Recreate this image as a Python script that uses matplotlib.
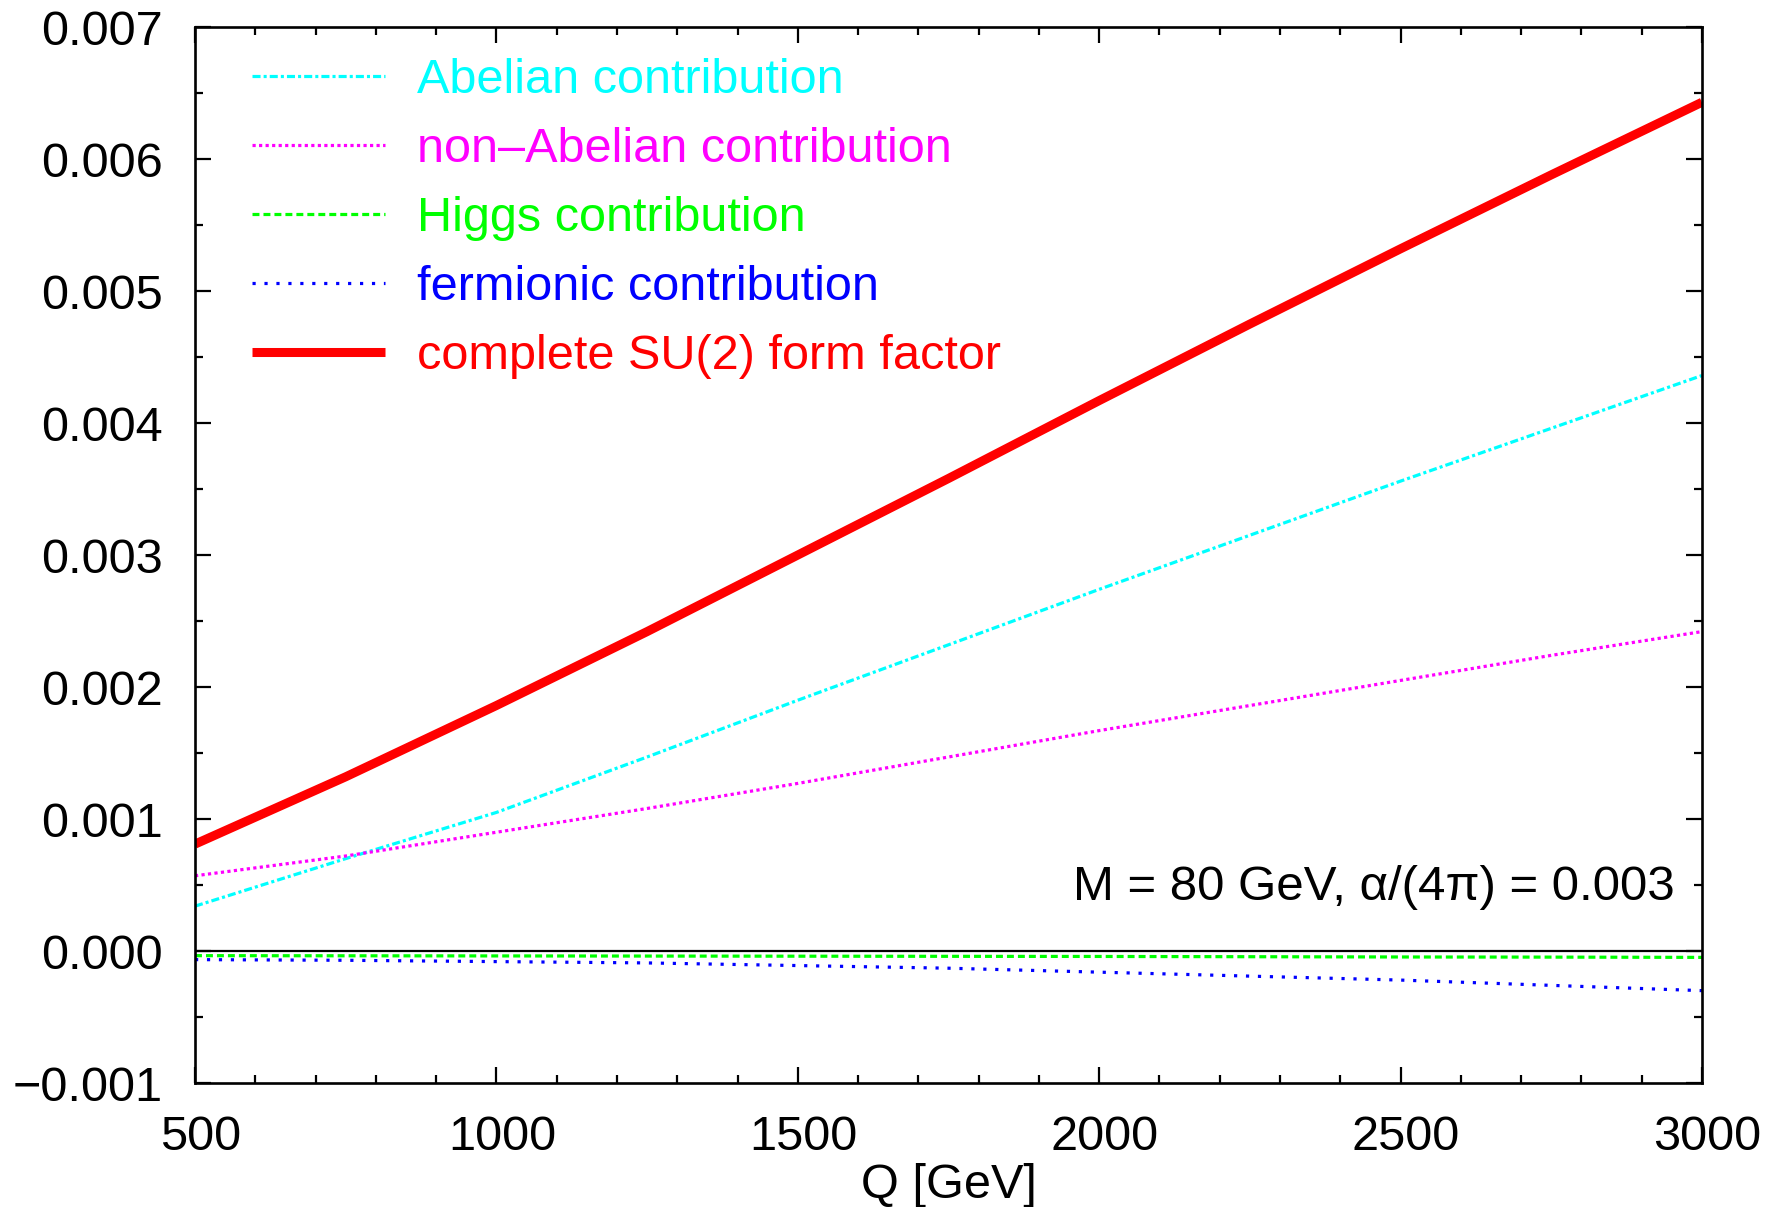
# SU(2) form factor contributions vs Q

import numpy as np
import matplotlib
matplotlib.use('Agg')
import matplotlib.pyplot as plt
import matplotlib.transforms as mtransforms
from matplotlib.ticker import MultipleLocator, FuncFormatter

plt.rcParams['font.family'] = ['Liberation Sans', 'DejaVu Sans']
plt.rcParams['lines.scale_dashes'] = False

# Data
Q = [500, 750, 1000, 1250, 1500, 1750, 2000, 2250, 2500, 2750, 3000]
abelian = [0.00034, 0.00070, 0.00105, 0.00147, 0.00190, 0.00232, 0.00274,
           0.00315, 0.00356, 0.00396, 0.00436]
non_abelian = [0.00057, 0.00072, 0.00090, 0.00108, 0.00127, 0.00147, 0.00167,
               0.00186, 0.00205, 0.00224, 0.00242]
higgs = [-0.000035, -0.000036, -0.000037, -0.000038, -0.000039, -0.00004,
         -0.000041, -0.000043, -0.000045, -0.000046, -0.000048]
fermionic = [-0.000065, -0.00007, -0.00008, -0.00009, -0.00011, -0.00013,
             -0.00016, -0.00019, -0.00022, -0.00026, -0.00030]
complete = [0.00081, 0.00132, 0.00186, 0.00242, 0.00300, 0.00358, 0.00417,
            0.00475, 0.00532, 0.00588, 0.00643]

labels = ['Abelian contribution', 'non\u2013Abelian contribution',
          'Higgs contribution', 'fermionic contribution',
          'complete SU(2) form factor']
colors = ['#00ffff', '#ff00ff', '#00ff00', '#0000ff', '#ff0000']

fig = plt.figure(figsize=(17.76, 12.07), dpi=100)
ax = fig.add_axes([0.1098, 0.1027, 0.8485, 0.8749])

ax.axhline(0, color='black', lw=1.6, zorder=1)

lines = []
lines += ax.plot(Q, abelian, color=colors[0], lw=2.3, dashes=(5.8, 2.2, 2.2, 2.2))
lines += ax.plot(Q, non_abelian, color=colors[1], lw=2.3, dashes=(2.3, 2.4))
lines += ax.plot(Q, higgs, color=colors[2], lw=2.3, dashes=(5, 2.9))
lines += ax.plot(Q, fermionic, color=colors[3], lw=2.3, dashes=(2.3, 6.3))
lines += ax.plot(Q, complete, color=colors[4], lw=6.5, solid_capstyle='butt')

ax.set_xlim(500, 3000)
ax.set_ylim(-0.001, 0.007)
ax.xaxis.set_major_locator(MultipleLocator(500))
ax.xaxis.set_minor_locator(MultipleLocator(100))
ax.yaxis.set_major_locator(MultipleLocator(0.001))
ax.yaxis.set_minor_locator(MultipleLocator(0.0005))
ax.yaxis.set_major_formatter(FuncFormatter(lambda v, p: ('%.3f' % v).replace('-', '\u2212')))
ax.tick_params(which='both', direction='in', top=True, right=True,
               width=1.6, labelsize=35)
ax.tick_params(axis='x', pad=23)
ax.tick_params(axis='y', pad=23)
ax.tick_params(which='major', length=11.5)
ax.tick_params(which='minor', length=5.8)
for s in ax.spines.values():
    s.set_linewidth(1.9)

# x tick labels sit a little right of their ticks in the original
shift = mtransforms.ScaledTranslation(4 / 72, 0, fig.dpi_scale_trans)
for lab in ax.get_xticklabels():
    lab.set_transform(lab.get_transform() + shift)

ax.set_xlabel('Q [GeV]', fontsize=35, labelpad=2)

leg = ax.legend(lines, labels, loc='upper left', bbox_to_anchor=(0.0375, 0.971),
                frameon=False, fontsize=35, handlelength=2.75, borderpad=0,
                handletextpad=0.65, labelspacing=0.495, borderaxespad=0)
for txt, c in zip(leg.get_texts(), colors):
    txt.set_color(c)

ax.text(0.982, 0.185, 'M = 80 GeV, \u03b1/(4\u03c0) = 0.003', transform=ax.transAxes,
        ha='right', va='center', fontsize=35.5)

fig.savefig('out.png', dpi=100)
